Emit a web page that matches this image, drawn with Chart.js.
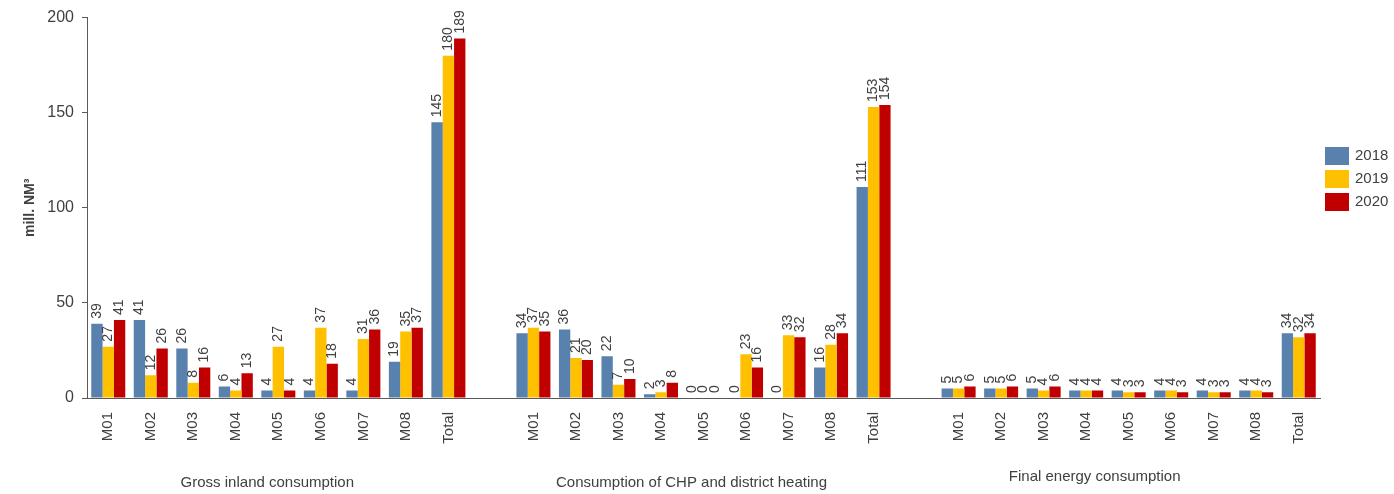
<!DOCTYPE html>
<html>
<head>
<meta charset="utf-8">
<title>Natural gas consumption</title>
<script src="https://cdn.jsdelivr.net/npm/chart.js@4.4.1/dist/chart.umd.min.js"></script>
<style>
  html, body { margin: 0; padding: 0; background: #fff; }
  #wrap { width: 1394px; height: 494px; }
</style>
</head>
<body>
<div id="wrap"><canvas id="gas-chart" width="1394" height="494"></canvas></div>
<script>
const months = ['M01', 'M02', 'M03', 'M04', 'M05', 'M06', 'M07', 'M08', 'Total'];
const groups = ['Gross inland consumption', 'Consumption of CHP and district heating', 'Final energy consumption'];
const years = ['2018', '2019', '2020'];
const yearColors = ['#5882ad', '#ffc000', '#c00000'];

// one array per group and year, M01..M08 then Total
const gross2018 = [39, 41, 26, 6, 4, 4, 4, 19, 145];
const gross2019 = [27, 12, 8, 4, 27, 37, 31, 35, 180];
const gross2020 = [41, 26, 16, 13, 4, 18, 36, 37, 189];

const chp2018 = [34, 36, 22, 2, 0, 0, 0, 16, 111];
const chp2019 = [37, 21, 7, 3, 0, 23, 33, 28, 153];
const chp2020 = [35, 20, 10, 8, 0, 16, 32, 34, 154];

const final2018 = [5, 5, 5, 4, 4, 4, 4, 4, 34];
const final2019 = [5, 5, 4, 4, 3, 4, 3, 4, 32];
const final2020 = [6, 6, 6, 4, 3, 3, 3, 3, 34];

const yTicks = [0, 50, 100, 150, 200];

const FONT = '"Liberation Sans", Arial, sans-serif';
const TEXT = '#404040';
const AXIS = '#595959';

// the three groups sit side by side with an empty slot between them
function joinGroups(parts, gap) {
  const out = [];
  parts.forEach((p, i) => {
    if (i > 0) out.push(gap);
    out.push(...p);
  });
  return out;
}

const labels = joinGroups([months, months, months], '');
const series = [
  joinGroups([gross2018, chp2018, final2018], null),
  joinGroups([gross2019, chp2019, final2019], null),
  joinGroups([gross2020, chp2020, final2020], null)
];

const valueLabels = {
  id: 'valueLabels',
  afterDatasetsDraw(chart) {
    const { ctx } = chart;
    ctx.save();
    ctx.font = '14px ' + FONT;
    ctx.fillStyle = TEXT;
    ctx.textAlign = 'left';
    ctx.textBaseline = 'middle';
    chart.data.datasets.forEach((ds, i) => {
      chart.getDatasetMeta(i).data.forEach((bar, j) => {
        const v = ds.data[j];
        if (v === null || v === undefined) return;
        ctx.save();
        ctx.translate(bar.x, bar.y - 5);
        ctx.rotate(-Math.PI / 2);
        ctx.fillText(String(v), 0, 0);
        ctx.restore();
      });
    });
    ctx.restore();
  }
};

// group captions under the month labels, plus the legend on the right
const groupCaptions = {
  id: 'groupCaptions',
  afterDraw(chart) {
    const { ctx } = chart;
    const x = chart.scales.x;
    const shift = [-11, -12, -34];
    const rise = [0, 0, 6];
    ctx.save();
    ctx.font = '15px ' + FONT;
    ctx.fillStyle = TEXT;
    ctx.textAlign = 'center';
    ctx.textBaseline = 'middle';
    groups.forEach((name, g) => {
      const first = g * (months.length + 1);
      const last = first + months.length - 1;
      const cx = (x.getPixelForValue(first) + x.getPixelForValue(last)) / 2;
      ctx.fillText(name, cx + shift[g], 483 - rise[g]);
    });

    const lx = chart.chartArea.right + 5;
    ctx.textAlign = 'left';
    chart.data.datasets.forEach((ds, i) => {
      const top = 147 + i * 23;
      ctx.fillStyle = ds.backgroundColor;
      ctx.fillRect(lx, top, 24, 18);
      ctx.fillStyle = TEXT;
      ctx.fillText(ds.label, lx + 30, top + 9);
    });
    ctx.restore();
  }
};

new Chart(document.getElementById('gas-chart'), {
  type: 'bar',
  data: {
    labels: labels,
    datasets: years.map((y, i) => ({
      label: y,
      data: series[i],
      backgroundColor: yearColors[i],
      borderWidth: 0,
      barPercentage: 1,
      categoryPercentage: 0.8
    }))
  },
  options: {
    responsive: false,
    animation: false,
    devicePixelRatio: 1,
    layout: { padding: { top: 17, right: 74, left: 0, bottom: 0 } },
    plugins: {
      legend: { display: false },
      tooltip: { enabled: false }
    },
    scales: {
      x: {
        offset: true,
        grid: { display: false },
        border: { display: true, color: AXIS, width: 1 },
        ticks: {
          autoSkip: false,
          minRotation: 90,
          maxRotation: 90,
          padding: 6,
          color: TEXT,
          font: { family: FONT, size: 15 }
        },
        afterFit(scale) { scale.height = 96; }
      },
      y: {
        min: yTicks[0],
        max: yTicks[yTicks.length - 1],
        afterBuildTicks(scale) { scale.ticks = yTicks.map(v => ({ value: v })); },
        grid: { drawOnChartArea: false, drawTicks: true, tickLength: 5, color: AXIS },
        border: { display: true, color: AXIS, width: 1 },
        ticks: {
          padding: 8,
          color: TEXT,
          font: { family: FONT, size: 16 }
        },
        title: {
          display: true,
          text: 'mill. NM³',
          color: TEXT,
          padding: { top: 22, bottom: 0 },
          font: { family: FONT, size: 14, weight: 'bold' }
        },
        afterFit(scale) { scale.width = 87; }
      }
    }
  },
  plugins: [valueLabels, groupCaptions]
});
</script>
</body>
</html>
